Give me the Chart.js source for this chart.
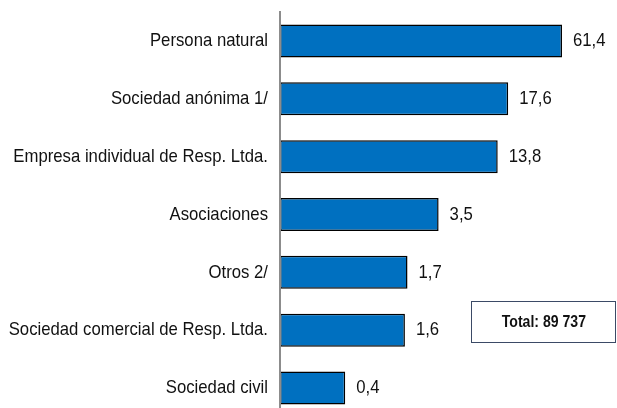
<!DOCTYPE html>
<html>
<head>
<meta charset="utf-8">
<script src="https://cdn.jsdelivr.net/npm/chart.js@4"></script>
<style>
  html, body { margin: 0; padding: 0; background: #fff; overflow: hidden; width: 617px; height: 408px; }
  #wrap { position: relative; width: 617px; height: 417px; }
  #total {
    position: absolute; left: 471px; top: 301px; width: 145px; height: 42px;
    border: 1px solid #3b4a66; box-sizing: border-box;
    display: flex; align-items: center; justify-content: center;
    font-family: 'Liberation Sans', Arial, sans-serif;
    font-weight: bold; font-size: 16px; color: #111;
  }
  #total span { display: inline-block; transform: scaleX(0.88); }
</style>
</head>
<body>
<div id="wrap">
  <canvas id="c" width="617" height="417"></canvas>
  <div id="total"><span>Total: 89 737</span></div>
</div>
<script>
const categories = ['Persona natural', 'Sociedad anónima 1/', 'Empresa individual de Resp. Ltda.', 'Asociaciones', 'Otros 2/', 'Sociedad comercial de Resp. Ltda.', 'Sociedad civil'];
const values = [61.4, 17.6, 13.8, 3.5, 1.7, 1.6, 0.4];
const valueLabels = ['61,4', '17,6', '13,8', '3,5', '1,7', '1,6', '0,4'];

const FONT = "'Liberation Sans', Arial, sans-serif";
const FONT_SIZE = 19;
const SQUEEZE = 0.88;

// Draws text horizontally condensed (the reference uses a narrow face)
function narrowText(ctx, text, x, y, align) {
  ctx.save();
  ctx.translate(x, y);
  ctx.scale(SQUEEZE, 1);
  ctx.textAlign = align;
  ctx.textBaseline = 'middle';
  ctx.fillText(text, 0, 0);
  ctx.restore();
}

const labelPlugin = {
  id: 'narrowLabels',
  afterDatasetsDraw(chart) {
    const ctx = chart.ctx;
    ctx.save();
    ctx.font = FONT_SIZE + 'px ' + FONT;
    ctx.fillStyle = '#111';
    // category labels through the y scale
    const yScale = chart.scales.y;
    yScale.ticks.forEach((t, i) => {
      const y = yScale.getPixelForTick(i);
      narrowText(ctx, chart.data.labels[i], yScale.right - 12, y, 'right');
    });
    // value labels at bar ends
    const meta = chart.getDatasetMeta(0);
    meta.data.forEach((bar, i) => {
      narrowText(ctx, valueLabels[i], bar.x + 11, bar.y, 'left');
    });
    ctx.restore();
  }
};

new Chart(document.getElementById('c'), {
  type: 'bar',
  data: {
    labels: categories,
    datasets: [{
      data: values,
      backgroundColor: '#0070C0',
      borderColor: '#000',
      borderWidth: 1.5,
      borderSkipped: false,
      barPercentage: 0.57,
      categoryPercentage: 1
    }]
  },
  options: {
    indexAxis: 'y',
    responsive: false,
    animation: false,
    layout: { padding: { top: 12, right: 34, bottom: 0, left: 0 } },
    plugins: { legend: { display: false }, tooltip: { enabled: false } },
    scales: {
      x: {
        type: 'logarithmic',
        min: 0.088,
        max: 100,
        display: false
      },
      y: {
        grid: { display: false },
        border: { display: true, color: '#8c8c8c', width: 2, z: 1 },
        ticks: { display: false },
        afterFit(scale) {
          scale.width = 280;
          scale.paddingTop = 0;
          scale.paddingBottom = 0;
        }
      }
    }
  },
  plugins: [labelPlugin]
});
</script>
</body>
</html>
